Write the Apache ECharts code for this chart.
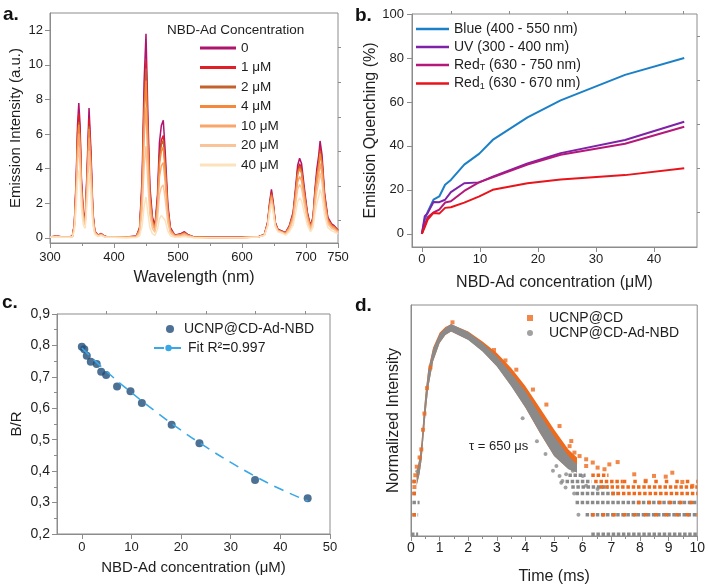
<!DOCTYPE html>
<html>
<head>
<meta charset="utf-8">
<script src="https://cdn.jsdelivr.net/npm/echarts@6/dist/echarts.min.js"></script>
<style>
  html, body { margin: 0; padding: 0; background: #fff; }
  #chart { width: 708px; height: 586px; }
</style>
</head>
<body>
<div id="chart"></div>
<script>
// a. emission spectra
const wavelength = [300, 310, 320, 330, 335, 338, 341, 343, 345, 347, 349, 352, 355, 358, 361, 364, 367, 370, 375, 380, 385, 390, 400,
  420, 435, 440, 444, 447, 450, 453, 456, 460, 464, 468, 471, 474, 477, 480, 484, 488, 495, 505, 510, 515, 525, 550, 600,
  625, 635, 640, 643, 646, 649, 652, 656, 662,
  668, 674, 680, 684, 687, 690, 693, 697, 702, 707, 711, 714, 717, 720, 722, 725, 729, 734, 740, 744, 750]
const spec0 = [0.05, 0.1, 0.05, 0.05, 0.1, 0.8, 3.5, 6.5, 7.8, 6.5, 3.5, 1.5, 1.1, 4.0, 7.5, 5.0, 1.5, 0.4, 0.15, 0.25, 0.1, 0.05, 0.05,
  0.05, 0.1, 0.6, 3.5, 9.0, 11.8, 7.0, 3.0, 1.2, 0.7, 2.5, 5.5, 6.5, 6.8, 5.0, 2.0, 0.6, 0.15, 0.25, 0.35, 0.2, 0.05, 0.03, 0.03,
  0.05, 0.2, 0.9, 2.0, 2.8, 2.0, 0.9, 0.5, 0.4,
  0.3, 0.7, 1.5, 3.0, 4.2, 4.6, 4.3, 3.0, 1.5, 0.7, 1.2, 2.8, 4.0, 4.8, 5.6, 4.8, 2.6, 1.2, 0.8, 0.7, 0.45]
const spec1 = [0.05, 0.09, 0.05, 0.05, 0.09, 0.74, 3.22, 5.98, 7.18, 5.98, 3.22, 1.38, 1.01, 3.68, 6.9, 4.6, 1.38, 0.37, 0.14, 0.23, 0.09, 0.05, 0.05,
  0.04, 0.09, 0.52, 3.05, 7.83, 10.27, 6.09, 2.61, 1.04, 0.61, 2.18, 4.79, 5.66, 5.92, 4.35, 1.74, 0.52, 0.13, 0.22, 0.3, 0.17, 0.04, 0.03, 0.03,
  0.05, 0.19, 0.85, 1.88, 2.63, 1.88, 0.85, 0.47, 0.38,
  0.28, 0.65, 1.4, 2.79, 3.91, 4.28, 4.0, 2.79, 1.4, 0.65, 1.12, 2.6, 3.72, 4.46, 5.21, 4.46, 2.42, 1.12, 0.74, 0.65, 0.42]
const spec2 = [0.04, 0.09, 0.04, 0.04, 0.09, 0.69, 3.01, 5.59, 6.71, 5.59, 3.01, 1.29, 0.95, 3.44, 6.45, 4.3, 1.29, 0.34, 0.13, 0.22, 0.09, 0.04, 0.04,
  0.04, 0.08, 0.5, 2.91, 7.47, 9.79, 5.81, 2.49, 1.0, 0.58, 2.08, 4.57, 5.4, 5.64, 4.15, 1.66, 0.5, 0.12, 0.21, 0.29, 0.17, 0.04, 0.02, 0.02,
  0.05, 0.18, 0.82, 1.82, 2.55, 1.82, 0.82, 0.46, 0.36,
  0.27, 0.63, 1.35, 2.7, 3.78, 4.14, 3.87, 2.7, 1.35, 0.63, 1.08, 2.52, 3.6, 4.32, 5.04, 4.32, 2.34, 1.08, 0.72, 0.63, 0.41]
const spec4 = [0.04, 0.08, 0.04, 0.04, 0.08, 0.67, 2.94, 5.46, 6.55, 5.46, 2.94, 1.26, 0.92, 3.36, 6.3, 4.2, 1.26, 0.34, 0.13, 0.21, 0.08, 0.04, 0.04,
  0.04, 0.08, 0.46, 2.7, 6.93, 9.09, 5.39, 2.31, 0.92, 0.54, 1.93, 4.24, 5.01, 5.24, 3.85, 1.54, 0.46, 0.12, 0.19, 0.27, 0.15, 0.04, 0.02, 0.02,
  0.04, 0.18, 0.79, 1.76, 2.46, 1.76, 0.79, 0.44, 0.35,
  0.26, 0.61, 1.31, 2.61, 3.65, 4.0, 3.74, 2.61, 1.31, 0.61, 1.04, 2.44, 3.48, 4.18, 4.87, 4.18, 2.26, 1.04, 0.7, 0.61, 0.39]
const spec10 = [0.04, 0.08, 0.04, 0.04, 0.08, 0.62, 2.7, 5.01, 6.01, 5.01, 2.7, 1.16, 0.85, 3.08, 5.78, 3.85, 1.16, 0.31, 0.12, 0.19, 0.08, 0.04, 0.04,
  0.03, 0.06, 0.38, 2.24, 5.76, 7.55, 4.48, 1.92, 0.77, 0.45, 1.6, 3.52, 4.16, 4.35, 3.2, 1.28, 0.38, 0.1, 0.16, 0.22, 0.13, 0.03, 0.02, 0.02,
  0.04, 0.17, 0.75, 1.66, 2.32, 1.66, 0.75, 0.42, 0.33,
  0.23, 0.54, 1.16, 2.31, 3.23, 3.54, 3.31, 2.31, 1.16, 0.54, 0.92, 2.16, 3.08, 3.7, 4.31, 3.7, 2.0, 0.92, 0.62, 0.54, 0.35]
const spec20 = [0.03, 0.07, 0.03, 0.03, 0.07, 0.54, 2.35, 4.36, 5.23, 4.36, 2.35, 1.01, 0.74, 2.68, 5.03, 3.35, 1.01, 0.27, 0.1, 0.17, 0.07, 0.03, 0.03,
  0.02, 0.05, 0.27, 1.58, 4.05, 5.31, 3.15, 1.35, 0.54, 0.32, 1.13, 2.48, 2.93, 3.06, 2.25, 0.9, 0.27, 0.07, 0.11, 0.16, 0.09, 0.02, 0.01, 0.01,
  0.04, 0.15, 0.69, 1.54, 2.16, 1.54, 0.69, 0.39, 0.31,
  0.2, 0.47, 1.01, 2.01, 2.81, 3.08, 2.88, 2.01, 1.01, 0.47, 0.8, 1.88, 2.68, 3.22, 3.75, 3.22, 1.74, 0.8, 0.54, 0.47, 0.3]
const spec40 = [0.03, 0.05, 0.03, 0.03, 0.05, 0.4, 1.75, 3.25, 3.9, 3.25, 1.75, 0.75, 0.55, 2.0, 3.75, 2.5, 0.75, 0.2, 0.08, 0.13, 0.05, 0.03, 0.03,
  0.01, 0.02, 0.12, 0.7, 1.8, 2.36, 1.4, 0.6, 0.24, 0.14, 0.5, 1.1, 1.3, 1.36, 1.0, 0.4, 0.12, 0.03, 0.05, 0.07, 0.04, 0.01, 0.01, 0.01,
  0.04, 0.14, 0.63, 1.4, 1.96, 1.4, 0.63, 0.35, 0.28,
  0.15, 0.35, 0.75, 1.5, 2.1, 2.3, 2.15, 1.5, 0.75, 0.35, 0.6, 1.4, 2.0, 2.4, 2.8, 2.4, 1.3, 0.6, 0.4, 0.35, 0.23]
const specNames = ['0', '1 μM', '2 μM', '4 μM', '10 μM', '20 μM', '40 μM']
const specColors = ['#B0146E', '#E01F26', '#C4622D', '#F4893E', '#F8A66B', '#FAC49B', '#FCE3BE']
const spectra = [spec0, spec1, spec2, spec4, spec10, spec20, spec40]
const intensityTicks = [0, 2, 4, 6, 8, 10, 12]

// b. quenching
const conc = [0, 0.5, 1, 2, 3, 4, 5, 7.3, 9.9, 12.2, 18.2, 23.9, 35, 45.2]
const quenchBlue = [0, 6.5, 10, 15.5, 17, 22.3, 24.5, 31.5, 36.5, 42.7, 53, 60.7, 72.3, 80]
const quenchUV = [0, 8, 9.4, 14.5, 14.4, 15.5, 19, 23, 23.4, 26, 32, 36.7, 42.7, 51]
const quenchRedT = [0, 4, 7.5, 9.7, 11, 14.2, 14.8, 19.5, 23.5, 25.7, 31.5, 36, 41, 48.7]
const quenchRed1 = [0, 3, 6.5, 9.5, 9.2, 11.8, 12.1, 14.2, 17, 20, 23, 24.7, 26.7, 29.8]
const quenchNames = ['Blue (400 - 550 nm)', 'UV (300 - 400 nm)', 'Red_T (630 - 750 nm)', 'Red_1 (630 - 670 nm)']
const quenchColors = ['#1B80C6', '#7E22A8', '#B5177A', '#E8141B']
const quenchTicks = [0, 20, 40, 60, 80, 100]
const concTicks = [0, 10, 20, 30, 40]

// c. B/R ratio
const ratioConc = [0, 0.5, 1, 1.8, 3, 3.9, 4.9, 7.1, 9.8, 12.1, 18.1, 23.7, 34.9, 45.5]
const ratioBR = [0.796, 0.788, 0.767, 0.748, 0.741, 0.716, 0.706, 0.669, 0.654, 0.617, 0.548, 0.489, 0.372, 0.314]
const fitConc = [0, 5, 10, 15, 20, 25, 30, 35, 40, 45.5]
const fitBR = [0.792, 0.717, 0.650, 0.588, 0.530, 0.477, 0.428, 0.383, 0.343, 0.305]
const ratioXTicks = [0, 10, 20, 30, 40, 50]

// d. decay (arbitrary log-intensity units 0-100)
const decayTime = [0.2, 0.3, 0.37, 0.43, 0.5, 0.6, 0.77, 1.0, 1.2, 1.4, 2.0, 2.5, 3.0, 3.5, 4.0, 4.5, 5.0, 5.5, 5.8]
const cdLow = [22, 27, 33, 42, 52, 64, 75.5, 83.5, 87, 88.5, 85, 80, 73.5, 65, 55.5, 44.7, 34.6, 29, 27.5]
const cdHigh = [28, 34, 41, 51, 61, 72, 81.5, 88, 90.5, 91.7, 88.5, 84.2, 79.2, 72.7, 64.8, 55.5, 46.1, 37.5, 34]
const nbdLow = [22, 27, 33, 42, 52, 64, 75.5, 83.5, 87, 88.5, 84.9, 79.9, 73.4, 64.8, 55.5, 44.7, 34.6, 28.9, 27.5]
const nbdHigh = [27.5, 33.5, 40.5, 50.5, 60.5, 71.5, 81, 87.5, 90, 91.8, 88.3, 83.5, 77.7, 70.5, 62.6, 52.6, 43.2, 34.6, 31]
// [level, t start, t end] for the quantised noise floor
const greyRows = [[0.8, 0.0, 0.25], [0.8, 6.3, 10], [9.2, 0.05, 0.25], [9.2, 6.1, 10], [14.5, 0.05, 0.3], [14.5, 5.75, 10],
  [18.4, 0.05, 0.2], [18.4, 5.75, 7.2], [21.2, 5.6, 6.9], [23.6, 0.05, 0.15], [23.6, 5.4, 6.3], [26.3, 5.5, 6.1]]
const cdRows = [[18.4, 0.05, 0.18], [18.4, 7.0, 10], [21.2, 6.6, 10], [23.6, 0.05, 0.2], [23.6, 6.4, 7.4], [26.3, 6.3, 6.9], [9.2, 0.05, 0.2]]
const cdSparseRows = [[14.5, 7.9, 10], [9.2, 6.3, 10], [23.6, 7.4, 10]]
const cdDots = [[5.54, 38.9], [5.71, 36.1], [5.89, 34.6], [6.12, 33.2], [6.12, 30.3], [6.35, 31.8], [6.52, 29.6], [6.76, 28.9],
  [6.93, 31], [7.22, 32], [7.8, 26.7], [8.2, 23.9], [8.49, 26], [8.9, 25.7], [9.13, 27.4], [9.48, 23.4], [9.83, 21.7],
  [3.68, 72], [4.26, 63.4], [4.73, 56.9], [5.19, 47.6], [5.6, 41.1], [0.2, 30], [0.15, 26.3], [0.3, 34], [0.12, 21.2],
  [2.9, 80.5], [3.3, 76], [1.45, 92.5], [0.36, 37.5], [0.42, 46], [0.47, 53], [0.56, 64], [0.68, 73]]
const nbdDots = [[5.25, 23.1], [4.96, 28.2], [5.08, 30.3], [5.42, 26.7], [5.65, 28.2], [6.0, 26], [6.12, 21.7], [6.52, 20.3],
  [5.19, 26], [4.7, 35.5], [4.4, 41], [3.9, 51], [5.7, 18.4], [0.22, 28], [5.29, 23.8], [5.4, 21], [5.85, 9.2]]

const FONT = 'Liberation Sans, Arial, sans-serif'
const INK = '#1e1e1e'
const FRAME = '#8c8c8c'
const ORANGE = '#EE6A1C'
const GREY = '#8A8A8A'

function axis(gridIndex, o) {
  const base = {
    type: 'value',
    gridIndex: gridIndex,
    nameLocation: 'middle',
    nameTextStyle: { color: INK, fontSize: 16, fontFamily: FONT },
    axisLine: { show: true, onZero: false, lineStyle: { color: FRAME, width: 1 } },
    axisTick: { show: true, length: 5, lineStyle: { color: FRAME } },
    minorTick: { show: false, length: 3, lineStyle: { color: FRAME } },
    axisLabel: { color: INK, fontSize: 13, fontFamily: FONT, margin: 7 },
    splitLine: { show: false }
  }
  const out = Object.assign({}, base, o)
  ;['nameTextStyle', 'axisLine', 'axisTick', 'minorTick', 'axisLabel'].forEach(k => {
    if (o[k]) out[k] = Object.assign({}, base[k], o[k])
  })
  return out
}

function minorAxis(gridIndex, min, max, values) {
  return axis(gridIndex, {
    min: min,
    max: max,
    axisLine: { show: false },
    axisTick: { length: 3, customValues: values },
    axisLabel: { show: false }
  })
}

function rowData(rows) {
  const out = []
  rows.forEach(r => {
    out.push([r[1], r[0]], [r[2], r[0]], [r[2], '-'])
  })
  return out
}

const comma = v => v.toFixed(1).replace('.', ',')

const series = []

spectra.forEach((s, i) => {
  series.push({
    type: 'line',
    name: specNames[i],
    xAxisIndex: 0,
    yAxisIndex: 0,
    symbol: 'none',
    lineStyle: { width: 1.5, color: specColors[i] },
    itemStyle: { color: specColors[i] },
    data: wavelength.map((w, j) => [w, s[j]])
  })
})

;[quenchBlue, quenchUV, quenchRedT, quenchRed1].forEach((q, i) => {
  series.push({
    type: 'line',
    name: quenchNames[i],
    xAxisIndex: 1,
    yAxisIndex: 1,
    symbol: 'none',
    lineStyle: { width: 2, color: quenchColors[i] },
    itemStyle: { color: quenchColors[i] },
    data: conc.map((c, j) => [c, q[j]])
  })
})

series.push({
  type: 'line',
  name: 'Fit R²=0.997',
  xAxisIndex: 2,
  yAxisIndex: 2,
  symbol: 'none',
  smooth: true,
  lineStyle: { width: 1.6, color: '#3AA8E6', type: [10, 7] },
  itemStyle: { color: '#3AA8E6' },
  data: fitConc.map((c, j) => [c, fitBR[j]])
})
series.push({
  type: 'scatter',
  name: 'UCNP@CD-Ad-NBD',
  xAxisIndex: 2,
  yAxisIndex: 2,
  symbol: 'circle',
  symbolSize: 8,
  itemStyle: { color: '#1F4E79' },
  data: ratioConc.map((c, j) => [c, ratioBR[j]])
})

// dense decay cloud drawn as a band between its lower and upper envelope
function band(name, low, high, color) {
  series.push({
    type: 'custom',
    name: name,
    xAxisIndex: 3,
    yAxisIndex: 3,
    data: [[decayTime[0], low[0]]],
    renderItem: function (params, api) {
      const pts = []
      decayTime.forEach((t, j) => pts.push(api.coord([t, high[j]])))
      for (let j = decayTime.length - 1; j >= 0; j--) pts.push(api.coord([decayTime[j], low[j]]))
      return { type: 'polygon', shape: { points: pts }, style: { fill: color } }
    }
  })
}
band('cdBand', cdLow, cdHigh, ORANGE)
band('nbdBand', nbdLow, nbdHigh, GREY)

series.push({
  type: 'line', name: 'nbdRows', xAxisIndex: 3, yAxisIndex: 3, symbol: 'none',
  lineStyle: { width: 3.5, color: GREY, type: [3.5, 1.6] },
  data: rowData(greyRows)
})
series.push({
  type: 'line', name: 'cdSparse', xAxisIndex: 3, yAxisIndex: 3, symbol: 'none',
  lineStyle: { width: 3.5, color: ORANGE, type: [3.5, 7] },
  data: rowData(cdSparseRows)
})
series.push({
  type: 'line', name: 'cdRows', xAxisIndex: 3, yAxisIndex: 3, symbol: 'none',
  lineStyle: { width: 3.5, color: ORANGE, type: [3.5, 1.8] },
  data: rowData(cdRows)
})
series.push({
  type: 'scatter', name: 'UCNP@CD', xAxisIndex: 3, yAxisIndex: 3,
  symbol: 'rect', symbolSize: 4, itemStyle: { color: ORANGE },
  data: cdDots
})
series.push({
  type: 'scatter', name: 'UCNP@CD-Ad-NBD ', xAxisIndex: 3, yAxisIndex: 3,
  symbol: 'circle', symbolSize: 4, itemStyle: { color: GREY },
  data: nbdDots
})

const legendText = { color: INK, fontSize: 14, fontFamily: FONT }

const option = {
  animation: false,
  backgroundColor: '#fff',
  grid: [
    { left: 50, top: 13, width: 288, height: 230, show: true, borderColor: FRAME, borderWidth: 1 },
    { left: 412, top: 14, width: 285, height: 233, show: true, borderColor: FRAME, borderWidth: 1 },
    { left: 57, top: 314, width: 273, height: 220, show: true, borderColor: FRAME, borderWidth: 1 },
    { left: 411, top: 305, width: 288, height: 232, show: true, borderColor: FRAME, borderWidth: 1 }
  ],
  xAxis: [
    axis(0, { min: 300, max: 750, interval: 100, name: 'Wavelength (nm)', nameGap: 27,
      minorTick: { show: true, splitNumber: 2 }, axisLabel: { margin: 8 } }),
    axis(1, { min: -1.7, max: 47.4, name: 'NBD-Ad concentration (μM)', nameGap: 28,
      axisTick: { customValues: concTicks }, axisLabel: { customValues: concTicks, margin: 6 } }),
    axis(2, { min: -5, max: 50, name: 'NBD-Ad concentration (μM)', nameGap: 26,
      nameTextStyle: { fontSize: 15 },
      axisTick: { customValues: ratioXTicks }, axisLabel: { customValues: ratioXTicks, margin: 7 } }),
    axis(3, { min: 0, max: 10, interval: 1, name: 'Time (ms)', nameGap: 33,
      minorTick: { show: true, splitNumber: 2 }, axisLabel: { margin: 5, fontSize: 14 } }),
    minorAxis(1, -1.7, 47.4, [5, 15, 25, 35, 45]),
    minorAxis(2, -5, 50, [5, 15, 25, 35, 45])
  ],
  yAxis: [
    axis(0, { min: -0.3, max: 13, name: 'Emission Intensity (a.u.)', nameGap: 27,
      nameTextStyle: { fontSize: 15 },
      axisTick: { customValues: intensityTicks }, axisLabel: { customValues: intensityTicks } }),
    axis(1, { min: -6, max: 100, name: 'Emission Quenching (%)', nameGap: 33,
      axisTick: { customValues: quenchTicks }, axisLabel: { customValues: quenchTicks, margin: 8 } }),
    axis(2, { min: 0.2, max: 0.9, interval: 0.1, name: 'B/R', nameGap: 33,
      nameTextStyle: { fontSize: 15 },
      minorTick: { show: true, splitNumber: 2 }, axisLabel: { formatter: comma, fontSize: 14 } }),
    axis(3, { min: 0, max: 100, name: 'Normalized Intensity', nameGap: 9,
      axisTick: { show: false }, axisLabel: { show: false } }),
    minorAxis(0, -0.3, 13, [1, 3, 5, 7, 9, 11]),
    minorAxis(1, -6, 100, [10, 30, 50, 70, 90])
  ],
  legend: [
    {
      data: specNames, left: 200, top: 41, padding: 0, orient: 'vertical', icon: 'rect',
      itemWidth: 36, itemHeight: 3, itemGap: 5.5, textStyle: { color: INK, fontSize: 13.5, fontFamily: FONT }
    },
    {
      data: quenchNames, left: 416, top: 22, padding: 0, orient: 'vertical', icon: 'rect',
      itemWidth: 33, itemHeight: 2.5, itemGap: 4,
      formatter: n => n.replace('Red_T', 'Red{sub|T}').replace('Red_1', 'Red{sub|1}'),
      textStyle: Object.assign({}, legendText, {
        rich: { sub: { fontSize: 9, fontFamily: FONT, color: INK, padding: [6, 0, 0, 0] } }
      })
    },
    {
      data: ['UCNP@CD-Ad-NBD'], left: 166, top: 322, padding: 0, itemWidth: 8, itemHeight: 8,
      textStyle: Object.assign({}, legendText, { padding: [0, 0, 0, 5] })
    },
    {
      data: ['Fit R²=0.997'], left: 153, top: 341, padding: 0, itemWidth: 29, itemHeight: 8,
      textStyle: legendText
    },
    {
      data: ['UCNP@CD', 'UCNP@CD-Ad-NBD '], left: 527, top: 311, padding: 0, orient: 'vertical',
      itemWidth: 6, itemHeight: 6, itemGap: 1,
      textStyle: Object.assign({}, legendText, { padding: [0, 0, 0, 11] })
    }
  ],
  graphic: [
    { type: 'text', left: 3, top: 5, style: { text: 'a.', font: 'bold 19px ' + FONT, fill: '#111' } },
    { type: 'text', left: 355, top: 6, style: { text: 'b.', font: 'bold 19px ' + FONT, fill: '#111' } },
    { type: 'text', left: 2, top: 293, style: { text: 'c.', font: 'bold 19px ' + FONT, fill: '#111' } },
    { type: 'text', left: 355, top: 296, style: { text: 'd.', font: 'bold 19px ' + FONT, fill: '#111' } },
    { type: 'text', left: 167, top: 23, style: { text: 'NBD-Ad Concentration', font: '13.5px ' + FONT, fill: INK } },
    { type: 'text', left: 469, top: 440, style: { text: 'τ = 650 μs', font: '13px ' + FONT, fill: INK } }
  ],
  series: series
}

const myChart = echarts.init(document.getElementById('chart'))
myChart.setOption(option)
</script>
</body>
</html>
